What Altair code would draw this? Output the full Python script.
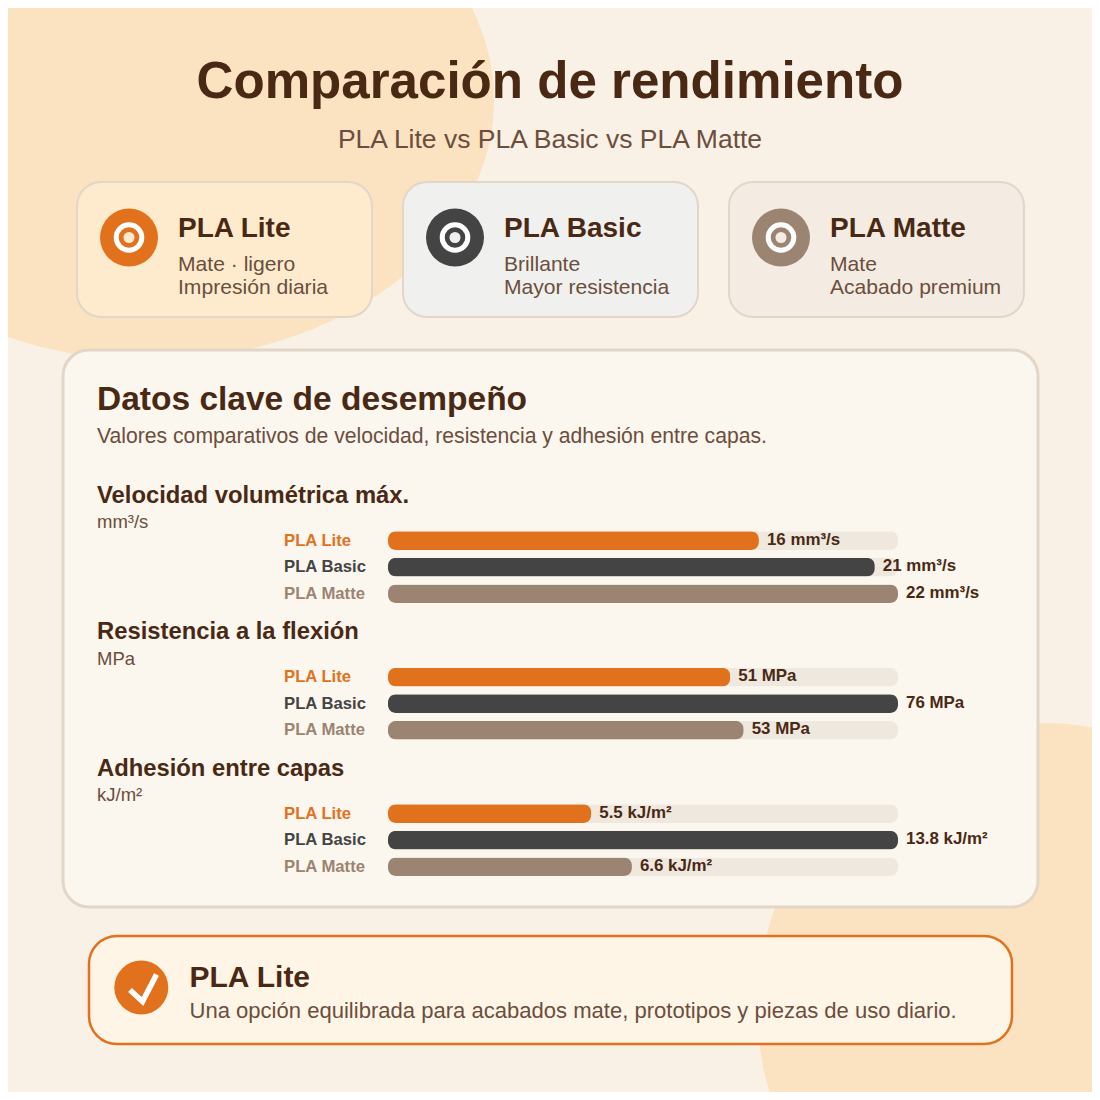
import altair as alt
import pandas as pd

TITLE = "Comparación de rendimiento"
SUBTITLE = "PLA Lite vs PLA Basic vs PLA Matte"
MATERIALS = ["PLA Lite", "PLA Basic", "PLA Matte"]
COLORS = ["#e2711d", "#444444", "#9b8472"]
CARD_FILLS = ["#feebcd", "#f0f0ee", "#f4ebe3"]
CARD_LINES = [["Mate · ligero", "Impresión diaria"], ["Brillante", "Mayor resistencia"], ["Mate", "Acabado premium"]]
PANEL_TITLE = "Datos clave de desempeño"
PANEL_SUB = "Valores comparativos de velocidad, resistencia y adhesión entre capas."
METRICS = ["Velocidad volumétrica máx.", "Resistencia a la flexión", "Adhesión entre capas"]
UNITS = ["mm³/s", "MPa", "kJ/m²"]
VALUES = [[16, 21, 22], [51, 76, 53], [5.5, 13.8, 6.6]]
VALUE_LABELS = [["16 mm³/s", "21 mm³/s", "22 mm³/s"], ["51 MPa", "76 MPa", "53 MPa"], ["5.5 kJ/m²", "13.8 kJ/m²", "6.6 kJ/m²"]]
SUMMARY_TITLE = "PLA Lite"
SUMMARY_TEXT = "Una opción equilibrada para acabados mate, prototipos y piezas de uso diario."

BG, BLOB, PANEL, BORDER, TRACK = "#f9f1e5", "#fbe3c2", "#fbf6ee", "#e2d6c8", "#efe8de"
DARK, MID, ORANGE = "#4a2914", "#6b4e3d", "#e2711d"
FONT = "Liberation Sans"
OFF = 8


def text(s, x, y, size, color, bold=False, align="left"):
    return alt.Chart(pd.DataFrame({"t": [s]})).mark_text(
        font=FONT, fontSize=size, color=color, align=align, baseline="alphabetic",
        fontWeight="bold" if bold else "normal",
    ).encode(x=alt.value(x - OFF), y=alt.value(y - OFF), text="t:N")


def box(x0, x1, y0, y1, fill, stroke, sw, r):
    return alt.Chart(pd.DataFrame({"a": [0]})).mark_rect(
        fill=fill, stroke=stroke, strokeWidth=sw, cornerRadius=r,
    ).encode(x=alt.value(x0 - OFF), x2=alt.value(x1 - OFF), y=alt.value(y0 - OFF), y2=alt.value(y1 - OFF))


def circle(x, y, r, fill):
    return alt.Chart(pd.DataFrame({"a": [0]})).mark_circle(
        fill=fill, opacity=1, size=4 * r * r,
    ).encode(x=alt.value(x - OFF), y=alt.value(y - OFF))


def ring(x, y, r, color, w):
    return alt.Chart(pd.DataFrame({"a": [0]})).mark_point(
        filled=False, stroke=color, strokeWidth=w, opacity=1, size=4 * r * r,
        shape="circle",
    ).encode(x=alt.value(x - OFF), y=alt.value(y - OFF))


def shape(x, y, path, **kw):
    return alt.Chart(pd.DataFrame({"a": [0]})).mark_point(
        shape=path, size=4, opacity=1, **kw,
    ).encode(x=alt.value(x - OFF), y=alt.value(y - OFF))


def ellipse(cx, cy, rx, ry, fill):
    p = f"M {-rx} 0 A {rx} {ry} 0 1 0 {rx} 0 A {rx} {ry} 0 1 0 {-rx} 0 Z"
    return shape(cx, cy, p, filled=True, fill=fill)


layers = [
    box(0, 1108, 0, 1108, BG, BG, 0, 0),
    ellipse(150, 100, 344, 260, BLOB),
    ellipse(1042, 1008, 285, 285, BLOB),
    text(TITLE, 550, 97.5, 51.1, DARK, True, "center"),
    text(SUBTITLE, 550, 148, 26.5, MID, False, "center"),
]

for i, m in enumerate(MATERIALS):
    x0 = 77 + i * 326
    layers += [
        box(x0, x0 + 295, 182, 317, CARD_FILLS[i], BORDER, 2, 24),
        circle(x0 + 52, 237.5, 29, COLORS[i]),
        ring(x0 + 52, 237.5, 12.8, "#ffffff", 5),
        circle(x0 + 52, 237.5, 5.5, CARD_FILLS[i]),
        text(m, x0 + 101, 236.5, 28, DARK, True),
        text(CARD_LINES[i][0], x0 + 101, 270.5, 21.1, MID),
        text(CARD_LINES[i][1], x0 + 101, 294, 21.1, MID),
    ]

layers += [
    box(63, 1038, 350, 907, PANEL, BORDER, 3, 26),
    text(PANEL_TITLE, 97, 410, 33.5, DARK, True),
    text(PANEL_SUB, 97, 443, 21.16, MID),
]

for k, metric in enumerate(METRICS):
    top = 531.3 + k * 136.5
    layers += [
        text(metric, 97, 502.5 + k * 136.7, 23.8, DARK, True),
        text(UNITS[k], 97, 528 + k * 136.7, 18.5, MID),
    ]
    vmax = max(VALUES[k])
    df = pd.DataFrame({"material": MATERIALS, "value": VALUES[k], "label": VALUE_LABELS[k], "track": [vmax] * 3})
    xs = alt.Scale(domain=[0, vmax], range=[388 - OFF, 898 - OFF], nice=False, zero=True)
    ys = alt.Scale(domain=MATERIALS, type="band", range=[top - OFF, top + 71.7 - OFF], paddingInner=0.3, paddingOuter=0)
    color = alt.Color("material:N", scale=alt.Scale(domain=MATERIALS, range=COLORS), legend=None)
    y = alt.Y("material:N", scale=ys, axis=None, title=None, sort=MATERIALS)
    base = alt.Chart(df)
    layers += [
        base.mark_bar(color=TRACK, cornerRadius=8).encode(
            x=alt.X("track:Q", scale=xs, axis=None, title=None), y=y),
        base.mark_bar(cornerRadius=8, opacity=1).encode(
            x=alt.X("value:Q", scale=xs, axis=None, title=None), y=y, color=color),
        base.mark_text(font=FONT, fontSize=16.7, fontWeight="bold", align="left", baseline="middle").encode(
            x=alt.value(284 - OFF), y=y, text="material:N", color=color),
        base.mark_text(font=FONT, fontSize=16.9, fontWeight="bold", align="left", baseline="middle", dx=8, dy=-1, color=DARK).encode(
            x=alt.X("value:Q", scale=xs, axis=None, title=None), y=y, text="label:N"),
    ]

layers += [
    box(89, 1012, 936, 1044, "#fff5e6", ORANGE, 2.5, 28),
    circle(141.3, 987.5, 27, ORANGE),
    shape(141, 988, "M -11 2 L 1.5 13.5 L 15.5 -13.5", filled=False, fill="transparent", stroke="#ffffff", strokeWidth=5.5, strokeCap="butt", strokeJoin="miter"),
    text(SUMMARY_TITLE, 189.5, 986.5, 30, DARK, True),
    text(SUMMARY_TEXT, 189.5, 1018, 22.05, MID),
]

chart = alt.layer(*layers).resolve_scale(x="independent", y="independent").properties(
    width=1084, height=1084, padding=0, background=BG,
    autosize=alt.AutoSizeParams(type="none"),
).configure_view(stroke=None)

chart.save("out.html", embed_options={"renderer": "svg", "actions": False})
